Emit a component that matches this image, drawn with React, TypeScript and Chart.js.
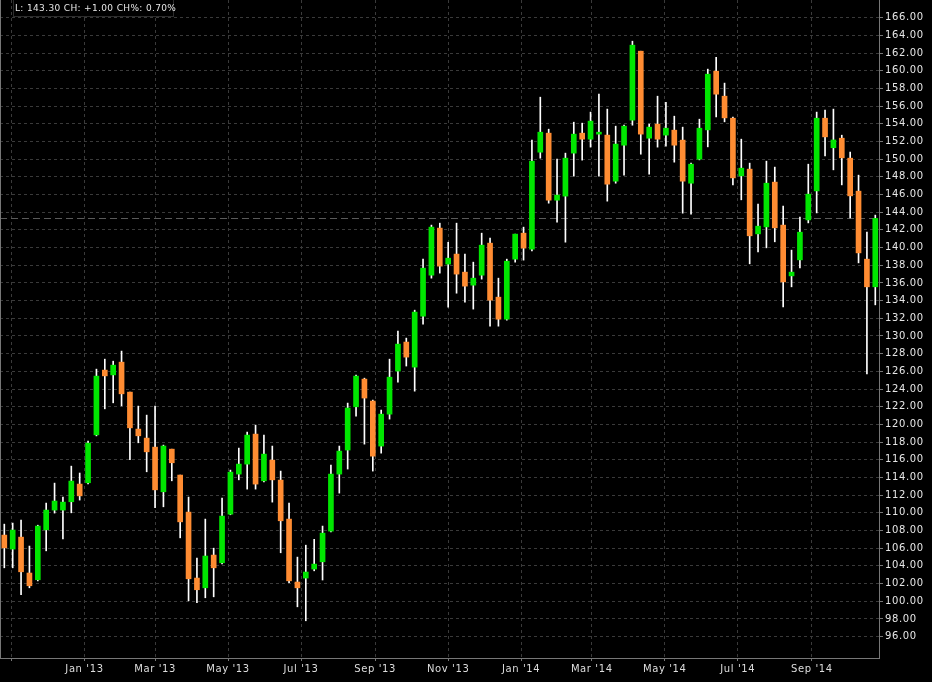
import React, { useEffect, useRef } from "react";
import { Chart, registerables } from "chart.js";

Chart.register(...registerables);

// Weekly candles, first week dated 2012-10-26
const firstWeek = "2012-10-26";

const opens = [
  107.48, 105.9, 107.25, 103.19, 102.43, 108.08, 110.31, 110.31, 111.25, 113.25,
  113.4, 118.82, 126.14, 125.6, 127.04, 123.65, 119.47, 118.45, 117.43, 112.38,
  117.2, 114.27, 110.08, 102.62, 101.52, 105.22, 104.35, 109.85, 114.38, 115.51,
  118.9, 113.62, 115.96, 113.7, 109.29, 102.17, 102.62, 103.64, 104.46, 107.93,
  114.38, 117.1, 121.99, 125.12, 122.64, 117.55, 121.16, 126.03, 129.31, 126.48,
  132.24, 136.88, 142.2, 138.13, 139.26, 137.22, 135.75, 136.88, 140.5, 134.39,
  131.9, 138.69, 141.63, 139.82, 150.79, 152.94, 145.36, 145.82, 150.68, 152.94,
  152.26, 152.83, 152.72, 147.51, 151.58, 154.41, 162.21, 152.37, 153.96, 152.72,
  153.28, 152.15, 147.28, 150.0, 153.31, 159.95, 157.12, 154.63, 148.11, 148.87,
  141.55, 142.34, 147.4, 142.54, 136.8, 138.61, 143.13, 146.41, 154.63, 151.29,
  152.37, 150.11, 146.38, 138.69, 135.56,
];
const highs = [
  108.72, 108.84, 109.18, 106.24, 108.6, 111.1, 113.36, 111.78, 115.28, 114.5,
  118.1, 126.25, 127.38, 127.15, 128.29, 123.65, 122.07, 121.05, 122.07, 117.66,
  117.2, 114.27, 111.78, 104.88, 109.29, 106.0, 111.67, 114.83, 117.32, 119.13,
  119.92, 118.79, 117.55, 114.72, 111.1, 104.99, 106.34, 107.0, 108.5, 115.4,
  117.55, 122.41, 125.57, 125.23, 122.75, 121.62, 127.38, 130.55, 129.76, 132.92,
  138.69, 142.54, 142.76, 140.6, 142.76, 139.26, 138.35, 141.63, 141.06, 136.54,
  138.69, 141.52, 142.31, 152.15, 157.01, 153.39, 150.0, 150.68, 154.18, 154.07,
  155.32, 157.35, 155.66, 153.73, 153.84, 163.34, 162.21, 153.96, 157.12, 156.44,
  154.86, 153.62, 149.55, 154.52, 160.18, 161.53, 158.6, 154.75, 152.26, 149.55,
  144.91, 149.77, 149.1, 144.68, 139.71, 143.44, 149.43, 155.32, 155.54, 155.66,
  152.71, 150.79, 148.19, 141.74, 143.67,
];
const lows = [
  103.78, 103.78, 100.73, 101.52, 102.3, 105.7, 109.97, 107.06, 110.0, 111.44,
  113.28, 118.7, 121.76, 122.44, 122.1, 116.0, 117.92, 114.64, 110.57, 110.68,
  113.62, 107.17, 100.05, 99.83, 100.39, 100.5, 104.23, 109.78, 113.73, 112.68,
  112.68, 113.5, 111.21, 105.48, 102.09, 99.37, 97.79, 103.44, 102.4, 107.85,
  112.23, 114.95, 120.94, 117.77, 114.72, 116.75, 120.6, 124.78, 126.6, 123.76,
  131.34, 136.54, 137.11, 133.26, 134.84, 133.83, 133.04, 136.43, 131.11, 131.11,
  131.79, 138.35, 138.58, 139.63, 150.11, 145.02, 142.88, 140.61, 148.08, 149.89,
  151.36, 148.08, 145.25, 147.28, 148.19, 153.84, 150.56, 148.3, 151.36, 151.47,
  149.66, 143.89, 143.78, 149.92, 151.39, 154.78, 154.22, 147.09, 145.4, 138.16,
  139.52, 139.97, 140.65, 133.3, 135.56, 137.71, 142.79, 143.92, 150.37, 148.79,
  147.09, 143.36, 138.27, 125.72, 133.52,
];
const closes = [
  106.04, 108.05, 103.33, 101.75, 108.5, 110.31, 111.33, 111.21, 113.59, 111.92,
  117.88, 125.46, 125.49, 126.7, 123.46, 119.61, 118.71, 116.9, 112.6, 117.55,
  115.66, 108.98, 102.54, 101.3, 105.11, 103.78, 109.63, 114.6, 115.51, 118.79,
  113.25, 116.64, 113.73, 109.1, 102.31, 101.52, 103.3, 104.2, 107.7, 114.38,
  116.98, 121.85, 125.46, 122.98, 116.41, 121.16, 125.34, 129.08, 127.61, 132.7,
  137.67, 142.31, 137.9, 138.8, 137.0, 135.64, 136.54, 140.27, 134.05, 131.9,
  138.46, 141.52, 139.94, 149.77, 153.05, 145.36, 145.93, 150.11, 152.83, 152.26,
  154.3, 153.05, 147.17, 151.7, 153.73, 162.89, 152.83, 153.62, 152.26, 153.5,
  151.58, 147.51, 149.43, 153.5, 159.61, 157.35, 154.67, 147.88, 148.98, 141.33,
  142.42, 147.28, 142.23, 136.12, 137.22, 141.74, 146.04, 154.63, 152.52, 152.17,
  150.15, 145.85, 139.4, 135.56, 143.3,
];

const monthTickDates = [
  "2012-11-01", "2013-01-01", "2013-03-01", "2013-05-01", "2013-07-01", "2013-09-01",
  "2013-11-01", "2014-01-01", "2014-03-01", "2014-05-01", "2014-07-01", "2014-09-01",
];
const monthTickLabels = [
  "", "Jan '13", "Mar '13", "May '13", "Jul '13", "Sep '13",
  "Nov '13", "Jan '14", "Mar '14", "May '14", "Jul '14", "Sep '14",
];
const yTickValues = [
  96, 98, 100, 102, 104, 106, 108, 110, 112, 114, 116, 118, 120, 122, 124, 126, 128, 130,
  132, 134, 136, 138, 140, 142, 144, 146, 148, 150, 152, 154, 156, 158, 160, 162, 164, 166,
];
const headerText = "L: 143.30 CH: +1.00 CH%: 0.70%";

const UP = "#00e600";
const DOWN = "#ff8c32";
const FONT = "DejaVu Sans";

const EPOCH = Date.UTC(2013, 0, 1);
const dayOf = (s: string) => (Date.parse(s + "T00:00:00Z") - EPOCH) / 86400000;

export default function App() {
  const ref = useRef<HTMLCanvasElement | null>(null);

  useEffect(() => {
    document.body.style.margin = "0";
    document.body.style.background = "#000";
    const canvas = ref.current;
    if (!canvas) return;

    const start = dayOf(firstWeek);
    const xs = opens.map((_, i) => start + 7 * i);
    const bodies = opens.map((o, i) => ({ x: xs[i], y: [o, closes[i]] }));
    const wicks = opens.map((_, i) => ({ x: xs[i], y: [lows[i], highs[i]] }));
    const bodyColors = opens.map((o, i) => (closes[i] >= o ? UP : DOWN));

    const overlay = {
      id: "overlay",
      beforeDraw(chart: any) {
        const { ctx, width, height } = chart;
        (ctx as any).letterSpacing = "0.6px";
        ctx.save();
        ctx.fillStyle = "#000";
        ctx.fillRect(0, 0, width, height);
        ctx.restore();
      },
      beforeDatasetsDraw(chart: any) {
        const { ctx, chartArea, scales } = chart;
        const y = Math.round(scales.y.getPixelForValue(closes[closes.length - 1])) + 0.5;
        ctx.save();
        ctx.strokeStyle = "#5a5a5a";
        ctx.lineWidth = 1;
        ctx.setLineDash([7, 4]);
        ctx.beginPath();
        ctx.moveTo(chartArea.left, y);
        ctx.lineTo(chartArea.right, y);
        ctx.stroke();
        ctx.restore();
      },
      afterDraw(chart: any) {
        const { ctx, chartArea } = chart;
        ctx.save();
        ctx.strokeStyle = "#777";
        ctx.lineWidth = 1;
        ctx.beginPath();
        ctx.moveTo(chartArea.left + 0.5, chartArea.top);
        ctx.lineTo(chartArea.left + 0.5, chartArea.bottom);
        ctx.stroke();
        // header box
        ctx.fillStyle = "#000";
        ctx.fillRect(13, 0, 160, 17);
        ctx.strokeStyle = "#2c2c2c";
        ctx.strokeRect(13.5, -0.5, 160, 17);
        ctx.fillStyle = "#e6e6e6";
        ctx.font = `9px "${FONT}"`;
        (ctx as any).letterSpacing = "0.35px";
        ctx.textBaseline = "middle";
        ctx.textAlign = "left";
        ctx.fillText(headerText, 15, 8.5);
        ctx.restore();
      },
    };

    const chart = new Chart(canvas, {
      type: "bar",
      data: {
        datasets: [
          {
            label: "body",
            data: bodies as any,
            backgroundColor: bodyColors,
            borderWidth: 0,
            barThickness: 5,
            grouped: false,
            minBarLength: 1,
            order: 0,
          } as any,
          {
            label: "wick",
            data: wicks as any,
            backgroundColor: "#ffffff",
            borderWidth: 0,
            barThickness: 1,
            grouped: false,
            order: 1,
          } as any,
        ],
      },
      options: {
        animation: false,
        responsive: false,
        devicePixelRatio: 1,
        layout: { padding: 0 },
        plugins: {
          legend: { display: false },
          tooltip: { enabled: false },
        },
        scales: {
          x: {
            type: "linear",
            min: -70.6,
            max: 664.1,
            offset: false,
            grid: { color: "#3a3a3a", offset: false, drawTicks: true, tickLength: 3, tickColor: "#777" },
            border: { color: "#777", dash: [3, 3] },
            ticks: {
              autoSkip: false,
              maxRotation: 0,
              color: "#dddddd",
              font: { family: FONT, size: 10 },
              padding: 2,
              callback: (_v: any, i: number) => monthTickLabels[i],
            },
            afterBuildTicks: (s: any) => {
              s.ticks = monthTickDates.map((d) => ({ value: dayOf(d) }));
            },
            afterFit: (s: any) => {
              s.height = 24;
              s.paddingLeft = 0;
              s.paddingRight = 0;
            },
          } as any,
          y: {
            type: "linear",
            position: "right",
            min: 93.58,
            max: 168.0,
            grid: { color: "#3a3a3a", drawTicks: true, tickLength: 4, tickColor: "#777" },
            border: { color: "#777", dash: [3, 3] },
            ticks: {
              color: "#e6e6e6",
              font: { family: FONT, size: 10 },
              padding: 2,
              callback: (v: any) => Number(v).toFixed(2),
            },
            afterBuildTicks: (s: any) => {
              s.ticks = yTickValues.map((v) => ({ value: v }));
            },
            afterFit: (s: any) => {
              s.width = 53;
              s.paddingTop = 0;
              s.paddingBottom = 0;
            },
          } as any,
        },
      },
      plugins: [overlay],
    });

    return () => chart.destroy();
  }, []);

  return <canvas ref={ref} width={932} height={682} style={{ display: "block" }} />;
}
